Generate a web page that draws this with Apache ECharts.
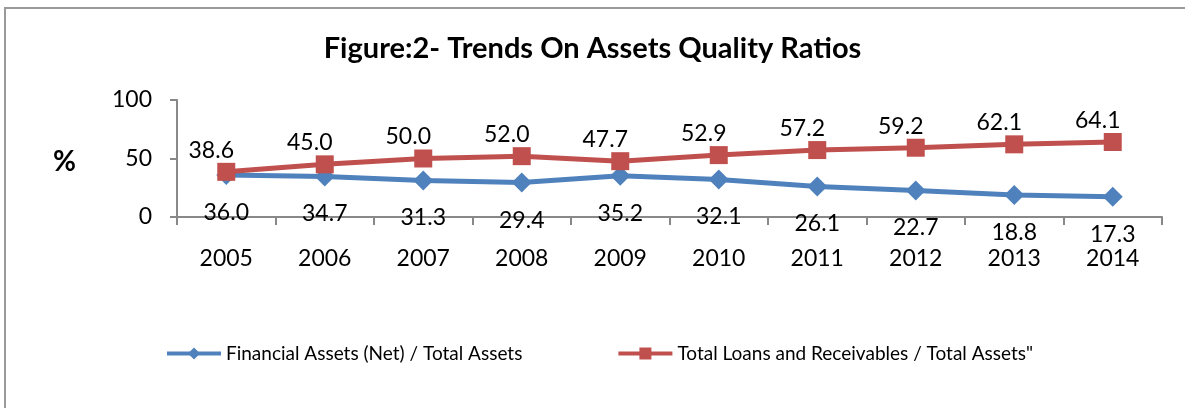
<!DOCTYPE html>
<html>
<head>
<meta charset="utf-8">
<script src="https://cdn.jsdelivr.net/npm/echarts@6/dist/echarts.min.js"></script>
<style>
  html, body { margin: 0; padding: 0; background: #fff; }
  #chart { width: 1185px; height: 408px; }
</style>
</head>
<body>
<div id="chart"></div>
<script>
// categories and values
const years = ['2005', '2006', '2007', '2008', '2009', '2010', '2011', '2012', '2013', '2014']
const financialAssets = [36.0, 34.7, 31.3, 29.4, 35.2, 32.1, 26.1, 22.7, 18.8, 17.3]
const loansReceivables = [38.6, 45.0, 50.0, 52.0, 47.7, 52.9, 57.2, 59.2, 62.1, 64.1]
const seriesNames = ['Financial Assets (Net) / Total Assets', 'Total Loans and Receivables / Total Assets"']

const font = 'Lato, "Open Sans", sans-serif'
const myChart = echarts.init(document.getElementById('chart'))

const option = {
  animation: false,
  color: ['#4F81BD', '#C0504D'],
  title: {
    text: 'Figure:2- Trends On Assets Quality Ratios',
    left: 'center',
    top: 29,
    textStyle: { fontFamily: font, fontSize: 29, fontWeight: 'bold', color: '#000' }
  },
  // outer frame, right and bottom sides fall outside the window
  graphic: [
    {
      type: 'rect',
      shape: { x: 5, y: 8, width: 1250, height: 450 },
      style: { fill: 'none', stroke: '#9a9a9a', lineWidth: 2 }
    },
    {
      type: 'text',
      left: 53,
      top: 148,
      style: { text: '%', font: 'bold 28px ' + font, fill: '#000' }
    }
  ],
  legend: {
    data: seriesNames,
    left: 160,
    top: 339,
    itemGap: 94,
    itemWidth: 54,
    itemHeight: 15,
    lineStyle: { width: 4 },
    textStyle: { fontFamily: font, fontSize: 19, color: '#000' }
  },
  grid: { left: 177, right: 23, top: 100, bottom: 191, containLabel: false },
  xAxis: {
    type: 'category',
    data: years,
    boundaryGap: true,
    axisLine: { lineStyle: { color: '#888', width: 2 } },
    axisTick: { show: true, length: 8, lineStyle: { color: '#888', width: 2 } },
    axisLabel: { margin: 30, fontFamily: font, fontSize: 23, color: '#000' }
  },
  yAxis: {
    type: 'value',
    min: 0,
    max: 100,
    interval: 50,
    splitLine: { show: false },
    axisLine: { show: true, lineStyle: { color: '#888', width: 2 } },
    axisTick: { show: true, length: 7, lineStyle: { color: '#888', width: 2 } },
    axisLabel: { margin: 25, fontFamily: font, fontSize: 23, color: '#000' }
  },
  series: [
    {
      name: seriesNames[0],
      type: 'line',
      data: financialAssets,
      symbol: 'diamond',
      symbolSize: 20,
      lineStyle: { width: 5 },
      label: {
        show: true,
        position: 'bottom',
        distance: 16,
        formatter: p => p.value.toFixed(1),
        fontFamily: font,
        fontSize: 23,
        color: '#000'
      }
    },
    {
      name: seriesNames[1],
      type: 'line',
      data: loansReceivables,
      symbol: 'rect',
      symbolSize: 18,
      lineStyle: { width: 5 },
      label: {
        show: true,
        position: 'top',
        distance: 1,
        offset: [-15, 0],
        formatter: p => p.value.toFixed(1),
        fontFamily: font,
        fontSize: 23,
        color: '#000'
      }
    }
  ]
}

myChart.setOption(option)
</script>
</body>
</html>
